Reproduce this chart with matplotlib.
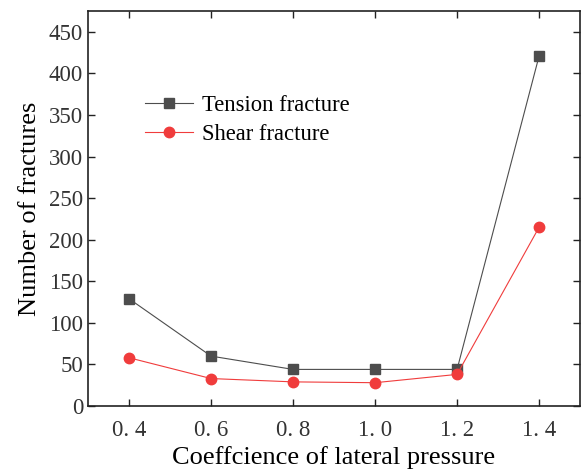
import matplotlib
matplotlib.use("Agg")
import matplotlib.pyplot as plt

# lateral pressure coefficients and fracture counts
coef = [0.4, 0.6, 0.8, 1.0, 1.2, 1.4]
tension = [129, 60, 44, 44, 44, 421]
shear = [58, 33, 29, 28, 38, 215]
xtick_labels = ["0. 4", "0. 6", "0. 8", "1. 0", "1. 2", "1. 4"]

plt.rcParams['font.family'] = ['Liberation Serif', 'DejaVu Serif']

fig = plt.figure(figsize=(5.83, 4.74), dpi=100)
ax = fig.add_axes([0.151, 0.1435, 0.844, 0.833])

ax.plot(coef, tension, color='#4d4d4d', lw=0.8, marker='s', ms=6.5,
        label='Tension fracture')
ax.plot(coef, shear, color='#f03c3c', lw=0.8, marker='o', ms=7.5,
        label='Shear fracture')

ax.set_xlim(0.3, 1.5)
ax.set_ylim(0, 475)
ax.set_xticks(coef)
ax.set_xticklabels(xtick_labels)
ax.set_yticks(range(0, 451, 50))
ax.tick_params(direction='in', top=True, right=True, labelsize=16.5,
               length=5, width=1, colors='#222222', labelcolor='#333333')
ax.tick_params(axis='x', pad=10)
for s in ax.spines.values():
    s.set_linewidth(1.2)
    s.set_color('#222222')

ax.set_xlabel('Coeffcience of lateral pressure', fontsize=19, labelpad=4)
ax.set_ylabel('Number of fractures', fontsize=19, labelpad=6)

ax.legend(loc='upper left', bbox_to_anchor=(0.075, 0.84), frameon=False,
          fontsize=16.3, handlelength=2.1, labelspacing=0.35, handletextpad=0.4)

fig.savefig('out.png', dpi=100)
